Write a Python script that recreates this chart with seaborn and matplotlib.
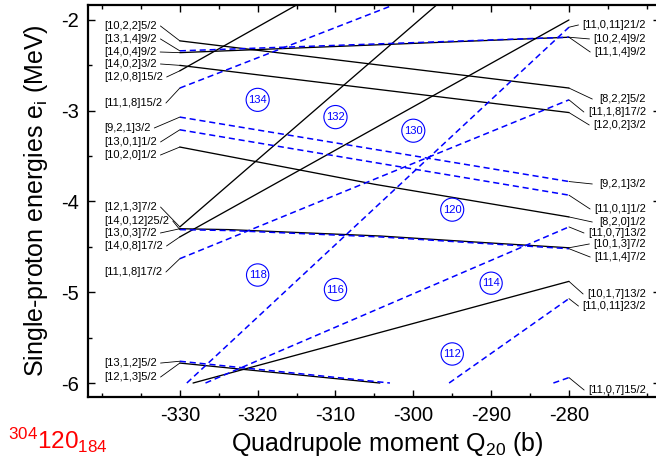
import numpy as np
import pandas as pd
import matplotlib
matplotlib.use('Agg')
import matplotlib.pyplot as plt
import seaborn as sns
from matplotlib.ticker import MultipleLocator

sns.set_theme(style='ticks')
plt.rcParams['font.family'] = ['Liberation Sans', 'DejaVu Sans']
plt.rcParams['mathtext.default'] = 'regular'
plt.rcParams['mathtext.fontset'] = 'custom'
plt.rcParams['mathtext.rm'] = 'Liberation Sans'
plt.rcParams['text.color'] = 'black'
plt.rcParams['axes.labelcolor'] = 'black'
plt.rcParams['xtick.color'] = 'black'
plt.rcParams['ytick.color'] = 'black'

# ---------------- data: single-proton levels (Q20 in b, energy in MeV) ----------------
# solid (black) levels
S1_q = [-330, -280];                         S1_e = [-2.23, -2.75]
S2_q = [-330, -280];                         S2_e = [-2.36, -2.19]
S3_q = [-330, -280];                         S3_e = [-2.50, -3.02]
S4_q = [-330, -312];                         S4_e = [-2.56, -1.69]
S5_q = [-330, -305, -280];                   S5_e = [-3.40, -3.81, -4.17]
S6_q = [-330, -296];                         S6_e = [-4.28, -1.76]
S7_q = [-330, -280];                         S7_e = [-4.39, -2.00]
S8_q = [-330, -323.6, -304.3, -291.4, -280]; S8_e = [-4.30, -4.31, -4.38, -4.45, -4.51]
S9_q = [-330, -304.3];                       S9_e = [-5.78, -6.00]
S10_q = [-328.3, -280];                      S10_e = [-6.00, -4.88]

# dashed (blue) levels
B1_q = [-330, -280];                         B1_e = [-2.34, -2.19]
B2_q = [-330, -300];                         B2_e = [-2.75, -1.75]
B3_q = [-330, -280];                         B3_e = [-3.07, -3.78]
B4_q = [-330, -280];                         B4_e = [-3.21, -3.93]
B5_q = [-330, -280];                         B5_e = [-4.63, -2.88]
B6_q = [-330, -323.6, -304.3, -291.4, -280]; B6_e = [-4.31, -4.32, -4.39, -4.46, -4.52]
B7_q = [-329.1, -280];                       B7_e = [-6.00, -2.08]
B8_q = [-326.7, -280];                       B8_e = [-6.00, -4.28]
B9_q = [-330, -303];                         B9_e = [-5.76, -6.00]
B10_q = [-295.4, -280];                      B10_e = [-6.00, -5.07]
B11_q = [-282, -280];                        B11_e = [-6.00, -5.94]

solid_lines = {'S1': (S1_q, S1_e), 'S2': (S2_q, S2_e), 'S3': (S3_q, S3_e), 'S4': (S4_q, S4_e),
               'S5': (S5_q, S5_e), 'S6': (S6_q, S6_e), 'S7': (S7_q, S7_e), 'S8': (S8_q, S8_e),
               'S9': (S9_q, S9_e), 'S10': (S10_q, S10_e)}
dashed_lines = {'B1': (B1_q, B1_e), 'B2': (B2_q, B2_e), 'B3': (B3_q, B3_e), 'B4': (B4_q, B4_e),
                'B5': (B5_q, B5_e), 'B6': (B6_q, B6_e), 'B7': (B7_q, B7_e), 'B8': (B8_q, B8_e),
                'B9': (B9_q, B9_e), 'B10': (B10_q, B10_e), 'B11': (B11_q, B11_e)}

# left labels (text, y position of label, line it points to)
left_labels = ['[10,2,2]5/2', '[13,1,4]9/2', '[14,0,4]9/2', '[14,0,2]3/2', '[12,0,8]15/2',
               '[11,1,8]15/2', '[9,2,1]3/2', '[13,0,1]1/2', '[10,2,0]1/2', '[12,1,3]7/2',
               '[14,0,12]25/2', '[13,0,3]7/2', '[14,0,8]17/2', '[11,1,8]17/2',
               '[13,1,2]5/2', '[12,1,3]5/2']
left_label_y = [-2.066, -2.209, -2.353, -2.485, -2.628, -2.915, -3.190, -3.344, -3.488,
                -4.061, -4.215, -4.347, -4.490, -4.777, -5.780, -5.934]
left_targets = ['S1', 'B1', 'S2', 'S3', 'S4', 'B2', 'B3', 'B4', 'S5', 'S6', 'B6', 'S8', 'S7',
                'B5', 'B9', 'S9']

right_labels = ['[11,0,11]21/2', '[10,2,4]9/2', '[11,1,4]9/2', '[8,2,2]5/2', '[11,1,8]17/2',
                '[12,0,2]3/2', '[9,2,1]3/2', '[11,0,1]1/2', '[8,2,0]1/2', '[11,0,7]13/2',
                '[10,1,3]7/2', '[11,1,4]7/2', '[10,1,7]13/2', '[11,0,11]23/2', '[11,0,7]15/2']
right_label_y = [-2.055, -2.209, -2.353, -2.871, -3.014, -3.157, -3.807, -4.083, -4.226,
                 -4.347, -4.468, -4.612, -5.019, -5.152, -6.077]
right_targets = ['B7', 'S2', 'B1', 'S1', 'B5', 'S3', 'B3', 'B4', 'S5', 'B8', 'S8', 'B6',
                 'S10', 'B10', 'B11']

# shell gap numbers
gap_numbers = ['134', '132', '130', '120', '118', '116', '114', '112']
gap_q = [-320, -310, -300, -295, -320, -310, -290, -295]
gap_e = [-2.88, -3.07, -3.22, -4.09, -4.81, -4.97, -4.90, -5.68]

# ---------------- figure ----------------
fig = plt.figure(figsize=(6.56, 4.59), dpi=100)
ax = fig.add_axes([88 / 656, 62 / 459, 572 / 656, 392 / 459])

rows = []
for name, (q, e) in solid_lines.items():
    for qq, ee in zip(q, e):
        rows.append((name, 'solid', qq, ee))
for name, (q, e) in dashed_lines.items():
    for qq, ee in zip(q, e):
        rows.append((name, 'dashed', qq, ee))
df = pd.DataFrame(rows, columns=['level', 'kind', 'Q20', 'E'])

sns.lineplot(data=df[df.kind == 'solid'], x='Q20', y='E', units='level', estimator=None,
             sort=False, color='black', linewidth=0.95, ax=ax, legend=False)
sns.lineplot(data=df[df.kind == 'dashed'], x='Q20', y='E', units='level', estimator=None,
             sort=False, color='#0000ff', linewidth=1.1, ax=ax, legend=False,
             dashes=False)
for ln in ax.get_lines()[-len(dashed_lines):]:
    ln.set_dashes((4, 2.5))

ax.set_xlim(-341.8, -268.3)
ax.set_ylim(-6.154, -1.835)
ax.xaxis.set_major_locator(MultipleLocator(10))
ax.xaxis.set_minor_locator(MultipleLocator(5))
ax.yaxis.set_major_locator(MultipleLocator(1))
ax.yaxis.set_minor_locator(MultipleLocator(0.5))
ax.set_xticks([-330, -320, -310, -300, -290, -280])
ax.set_xticklabels(['-330', '-320', '-310', '-300', '-290', '-280'])
ax.set_yticks([-2, -3, -4, -5, -6])
ax.set_yticklabels(['-2', '-3', '-4', '-5', '-6'])
ax.tick_params(which='both', direction='in', top=True, right=True, colors='black',
               labelsize=14.5, width=1.0)
ax.tick_params(which='major', length=5, pad=6.5)
ax.tick_params(which='minor', length=3)
for sp in ax.spines.values():
    sp.set_linewidth(1.6)
    sp.set_color('black')

ax.set_xlabel('Quadrupole moment Q$_{20}$ (b)', fontsize=18)
ax.xaxis.set_label_coords(0.523, -0.085, transform=ax.transAxes)
ax.xaxis.label.set_va('top')
ax.set_ylabel('Single-proton energies e$_{i}$ (MeV)', fontsize=18, labelpad=8)

fig.text(8 / 656, 1 - 440 / 459, '$^{304}$120$_{184}$', color='red', fontsize=17.5,
         ha='left', va='center')

for s, q, e in zip(gap_numbers, gap_q, gap_e):
    ax.text(q, e, s, color='#0000ff', fontsize=8, ha='center', va='center',
            bbox=dict(boxstyle='circle,pad=0.2', fc='none', ec='#0000ff', lw=0.8))

all_lines = {**solid_lines, **dashed_lines}
lt = [ax.text(-339.77, y, s, fontsize=8, ha='left', va='center', color='black')
      for s, y in zip(left_labels, left_label_y)]
rt = [ax.text(-270.1, y, s, fontsize=8, ha='right', va='center', color='black')
      for s, y in zip(right_labels, right_label_y)]

fig.canvas.draw()
r = fig.canvas.get_renderer()
inv = ax.transData.inverted()
for t, tgt in zip(lt, left_targets):
    bb = t.get_window_extent(r)
    x0, y0 = inv.transform((bb.x1 + 4, (bb.y0 + bb.y1) / 2))
    q, e = all_lines[tgt]
    ax.plot([x0, q[0]], [y0, e[0]], color='black', lw=0.6, clip_on=False)
cap = -277.0
for t, tgt in zip(rt, right_targets):
    bb = t.get_window_extent(r)
    x1, y1 = inv.transform((bb.x0 - 4, (bb.y0 + bb.y1) / 2))
    x1 = min(x1, cap)
    q, e = all_lines[tgt]
    ax.plot([q[-1], x1], [e[-1], y1], color='black', lw=0.6, clip_on=False)

fig.savefig('out.png', dpi=100)
